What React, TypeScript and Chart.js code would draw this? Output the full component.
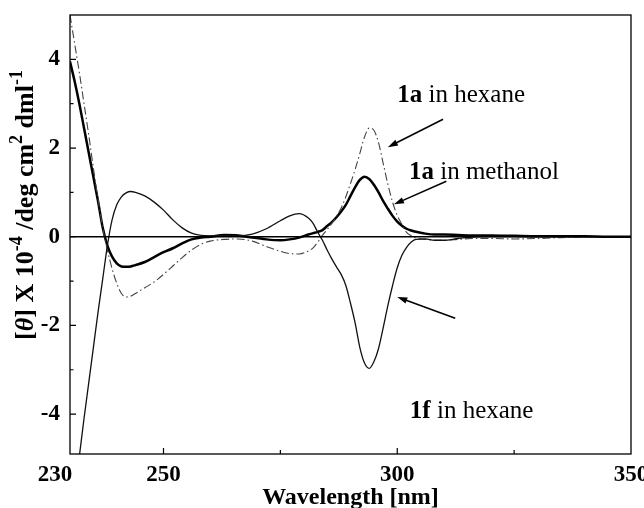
import React, { useEffect, useRef } from 'react';
import { Chart, registerables } from 'chart.js';

Chart.register(...registerables);

// ---------- data ----------
const wavelengths = [
  230, 231, 232, 233, 234, 235, 236, 237, 238, 239, 240, 241, 242, 243, 244,
  246, 248, 250, 252, 254, 256, 258, 260, 263, 266, 269, 272, 275, 277, 279, 281,
  282, 283, 284, 285, 286, 287, 288, 289, 290, 291, 292, 293, 294, 295, 296, 297,
  298, 299, 300, 301, 302, 303, 304, 306, 308, 310, 313, 316, 320, 325, 330, 335,
  340, 345, 350,
];

const hexane1a = [
  5.0, 4.35, 3.7, 3.0, 2.3, 1.55, 0.85, 0.2, -0.3, -0.72, -1.05, -1.28, -1.36, -1.34, -1.28,
  -1.15, -1.02, -0.85, -0.66, -0.47, -0.3, -0.17, -0.1, -0.06, -0.05, -0.1, -0.22, -0.33, -0.38, -0.39, -0.32,
  -0.25, -0.12, 0.03, 0.16, 0.3, 0.46, 0.65, 0.9, 1.2, 1.52, 1.88, 2.25, 2.45, 2.4, 2.12, 1.65,
  1.18, 0.78, 0.48, 0.28, 0.1, 0.02, -0.03, -0.06, -0.08, -0.08, -0.06, -0.04, -0.04, -0.05, -0.04, -0.02,
  -0.01, 0, 0,
];

const methanol1a = [
  3.95, 3.5, 3.0, 2.45, 1.9, 1.35, 0.8, 0.2, -0.2, -0.45, -0.6, -0.67, -0.68, -0.67, -0.64,
  -0.57, -0.46, -0.35, -0.26, -0.15, -0.06, -0.02, 0, 0.04, 0.03, -0.02, -0.06, -0.08, -0.06, -0.02, 0.05,
  0.08, 0.11, 0.15, 0.24, 0.33, 0.44, 0.57, 0.72, 0.92, 1.12, 1.28, 1.35, 1.3, 1.17, 1.0, 0.8,
  0.63, 0.47, 0.34, 0.25, 0.18, 0.14, 0.11, 0.07, 0.05, 0.05, 0.04, 0.03, 0.03, 0.02, 0.01, 0.01,
  0.01, 0, 0,
];

const hexane1f = [
  -6.6, -5.8, -4.95, -4.1, -3.3, -2.5, -1.7, -0.95, -0.2, 0.38, 0.72, 0.9, 0.99, 1.02, 1.0,
  0.92, 0.78, 0.6, 0.38, 0.2, 0.08, 0.03, 0.02, 0.03, 0.02, 0.06, 0.18, 0.36, 0.47, 0.52, 0.42,
  0.3, 0.1, -0.08, -0.3, -0.5, -0.68, -0.85, -1.1, -1.5, -1.95, -2.5, -2.85, -2.97, -2.82, -2.52, -2.05,
  -1.55, -1.1, -0.7, -0.42, -0.24, -0.12, -0.06, -0.05, -0.08, -0.08, -0.04, -0.01, 0, 0, 0, 0,
  0, 0, 0,
];

const baselineX = [230, 350];
const baselineY = [0, 0];

const xTickLabels = [230, 250, 300, 350];
const xTickMarks = [250, 275, 300, 325];
const yTickLabels = [-4, -2, 0, 2, 4];
const yMinorTicks = [-3, -1, 1, 3];

const seriesNames = ['1a in hexane', '1a in methanol', '1f in hexane'];
const annotationBold = ['1a', '1a', '1f'];
const annotationRest = [' in hexane', ' in methanol', ' in hexane'];

// annotation anchors (data units): text left/baseline, arrow tail, arrow tip
const annotationText = [[300.0, 3.04], [302.5, 1.3], [302.7, -4.09]];
const arrowFrom = [[309.8, 2.65], [310.5, 1.25], [312.4, -1.84]];
const arrowTo = [[298.0, 2.02], [299.3, 0.73], [300.0, -1.36]];

// ---------- style ----------
const SERIF = '"Liberation Serif", "Times New Roman", Times, serif';

function toPoints(xs: number[], ys: number[]) {
  return xs.map((x, i) => ({ x, y: ys[i] }));
}

const decorPlugin = {
  id: 'decor',
  afterDatasetsDraw(chart: any) {
    const { ctx, chartArea: a, scales } = chart;
    const xs = scales.x;
    const ys = scales.y;
    ctx.save();
    ctx.strokeStyle = '#000';
    ctx.fillStyle = '#000';

    // frame
    ctx.lineWidth = 1.3;
    ctx.strokeRect(a.left, a.top, a.right - a.left, a.bottom - a.top);

    // ticks (inward)
    ctx.lineWidth = 1.2;
    ctx.beginPath();
    xTickMarks.forEach((v) => {
      const px = xs.getPixelForValue(v);
      const len = xTickLabels.includes(v) ? 6 : 4;
      ctx.moveTo(px, a.bottom);
      ctx.lineTo(px, a.bottom - len);
    });
    yTickLabels.forEach((v) => {
      const py = ys.getPixelForValue(v);
      ctx.moveTo(a.left, py);
      ctx.lineTo(a.left + 6, py);
    });
    yMinorTicks.forEach((v) => {
      const py = ys.getPixelForValue(v);
      ctx.moveTo(a.left, py);
      ctx.lineTo(a.left + 3.5, py);
    });
    ctx.stroke();

    // tick labels
    ctx.font = `bold 23px ${SERIF}`;
    ctx.textAlign = 'center';
    ctx.textBaseline = 'middle';
    xTickLabels.forEach((v) => {
      const px = xs.getPixelForValue(v) - (v === xs.min ? 15 : 0);
      ctx.fillText(String(v), px, a.bottom + 21);
    });
    ctx.textAlign = 'right';
    yTickLabels.forEach((v) => {
      ctx.fillText(String(v), a.left - 10, ys.getPixelForValue(v));
    });

    // x title
    ctx.textAlign = 'center';
    ctx.font = `bold 24px ${SERIF}`;
    ctx.fillText('Wavelength [nm]', (a.left + a.right) / 2, a.bottom + 44);

    // y title with superscripts, rotated
    const fs = 26;
    const supF = `bold ${Math.round(fs * 0.68)}px ${SERIF}`;
    const segs = [
      { t: '[', f: `bold ${fs}px ${SERIF}`, sup: false },
      { t: 'θ', f: `italic bold ${fs}px ${SERIF}`, sup: false },
      { t: '] X 10', f: `bold ${fs}px ${SERIF}`, sup: false },
      { t: '-4', f: supF, sup: true },
      { t: ' /deg cm', f: `bold ${fs}px ${SERIF}`, sup: false },
      { t: '2', f: supF, sup: true },
      { t: ' dml', f: `bold ${fs}px ${SERIF}`, sup: false },
      { t: '-1', f: supF, sup: true },
    ];
    let total = 0;
    const widths = segs.map((s) => {
      ctx.font = s.f;
      const w = ctx.measureText(s.t).width;
      total += w;
      return w;
    });
    ctx.save();
    ctx.translate(33, 205);
    ctx.rotate(-Math.PI / 2);
    ctx.textAlign = 'left';
    ctx.textBaseline = 'alphabetic';
    let u = -total / 2;
    segs.forEach((s, i) => {
      ctx.font = s.f;
      ctx.fillText(s.t, u, s.sup ? -fs * 0.42 : 0);
      u += widths[i];
    });
    ctx.restore();

    // annotations
    ctx.textAlign = 'left';
    ctx.textBaseline = 'alphabetic';
    for (let i = 0; i < seriesNames.length; i++) {
      const tx = xs.getPixelForValue(annotationText[i][0]);
      const ty = ys.getPixelForValue(annotationText[i][1]);
      ctx.font = `bold 25px ${SERIF}`;
      ctx.fillText(annotationBold[i], tx, ty);
      const bw = ctx.measureText(annotationBold[i]).width;
      ctx.font = `25px ${SERIF}`;
      ctx.fillText(annotationRest[i], tx + bw, ty);

      const x1 = xs.getPixelForValue(arrowFrom[i][0]);
      const y1 = ys.getPixelForValue(arrowFrom[i][1]);
      const x2 = xs.getPixelForValue(arrowTo[i][0]);
      const y2 = ys.getPixelForValue(arrowTo[i][1]);
      const ang = Math.atan2(y2 - y1, x2 - x1);
      const hl = 10;
      const hw = 3.2;
      ctx.lineWidth = 1.5;
      ctx.beginPath();
      ctx.moveTo(x1, y1);
      ctx.lineTo(x2 - Math.cos(ang) * hl * 0.8, y2 - Math.sin(ang) * hl * 0.8);
      ctx.stroke();
      ctx.beginPath();
      ctx.moveTo(x2, y2);
      ctx.lineTo(
        x2 - Math.cos(ang) * hl - Math.sin(ang) * hw,
        y2 - Math.sin(ang) * hl + Math.cos(ang) * hw
      );
      ctx.lineTo(
        x2 - Math.cos(ang) * hl + Math.sin(ang) * hw,
        y2 - Math.sin(ang) * hl - Math.cos(ang) * hw
      );
      ctx.closePath();
      ctx.fill();
    }
    ctx.restore();
  },
};

export default function App() {
  const ref = useRef<HTMLCanvasElement>(null);

  useEffect(() => {
    document.body.style.margin = '0';
    const canvas = ref.current;
    if (!canvas) return;
    const chart = new Chart(canvas, {
      type: 'line',
      data: {
        datasets: [
          {
            label: 'baseline',
            data: toPoints(baselineX, baselineY),
            borderColor: '#000',
            borderWidth: 1.5,
            pointRadius: 0,
          },
          {
            label: seriesNames[2],
            data: toPoints(wavelengths, hexane1f),
            borderColor: '#111',
            borderWidth: 1.3,
            pointRadius: 0,
            cubicInterpolationMode: 'monotone',
          },
          {
            label: seriesNames[0],
            data: toPoints(wavelengths, hexane1a),
            borderColor: '#444',
            borderWidth: 1.1,
            borderDash: [8, 3, 1.5, 3],
            pointRadius: 0,
            cubicInterpolationMode: 'monotone',
          },
          {
            label: seriesNames[1],
            data: toPoints(wavelengths, methanol1a),
            borderColor: '#000',
            borderWidth: 2.5,
            pointRadius: 0,
            cubicInterpolationMode: 'monotone',
          },
        ],
      },
      options: {
        animation: false,
        responsive: false,
        maintainAspectRatio: false,
        layout: { padding: { left: 70, right: 13, top: 15, bottom: 54 } },
        plugins: {
          legend: { display: false },
          tooltip: { enabled: false },
        },
        scales: {
          x: { type: 'linear', min: 230, max: 350, display: false },
          y: { type: 'linear', min: -4.9, max: 5, display: false },
        },
      },
      plugins: [decorPlugin],
    } as any);
    return () => chart.destroy();
  }, []);

  return (
    <div style={{ width: 644, height: 508, background: '#fff' }}>
      <canvas ref={ref} width={644} height={508} style={{ display: 'block', width: 644, height: 508 }} />
    </div>
  );
}
